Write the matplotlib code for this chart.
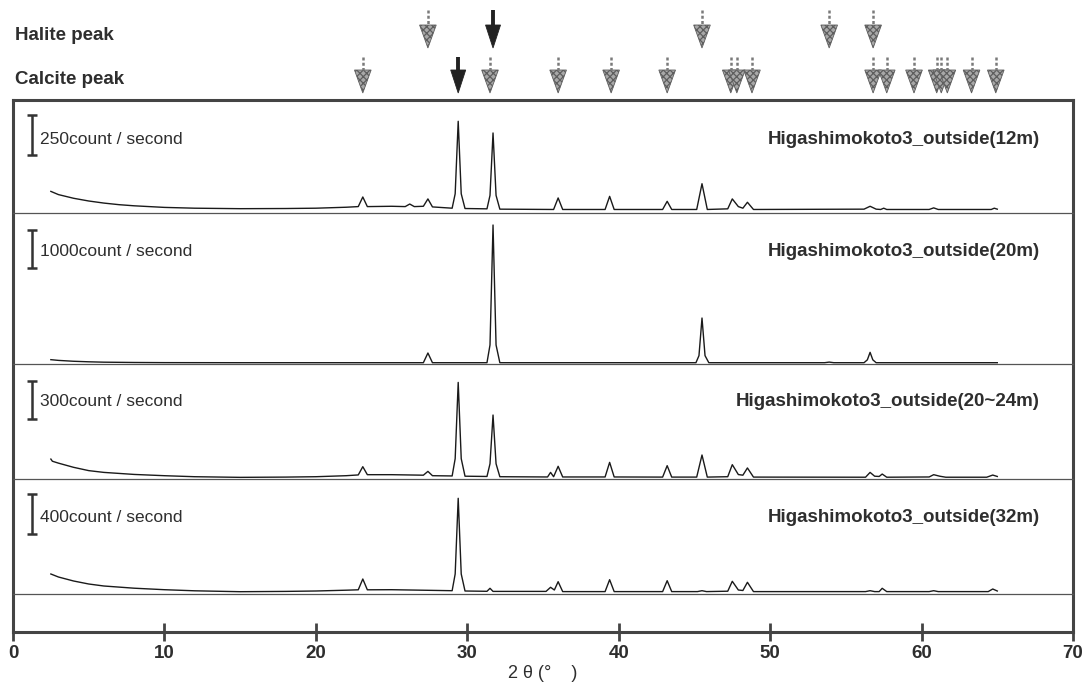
import matplotlib
matplotlib.use("Agg")
import matplotlib.pyplot as plt
import numpy as np
from matplotlib.patches import Polygon

plt.rcParams["font.family"] = ["Liberation Sans", "DejaVu Sans"]
plt.rcParams["hatch.linewidth"] = 0.9

W, H = 1088, 690

# reference peak positions (2 theta, deg)
halite_gray = [27.4, 45.5, 53.9, 56.8]
halite_black = [31.7]
calcite_gray = [23.1, 31.5, 36.0, 39.5, 43.2, 47.4, 47.8, 48.8, 56.8, 57.7,
                59.5, 61.0, 61.3, 61.7, 63.3, 64.9]
calcite_black = [29.4]

# traces: (2 theta, count/second)
trace_12m = [(2.5, 135), (3.0, 115), (4.0, 92), (5.0, 75), (6.0, 62), (7.0, 52), (8.0, 45),
             (10.0, 35), (12.0, 30), (15.0, 27), (18.0, 28), (20.0, 30), (22.0, 36), (22.8, 40),
             (23.1, 100), (23.4, 40), (25.0, 42), (25.9, 40), (26.2, 56), (26.5, 40), (27.1, 42),
             (27.4, 88), (27.7, 38), (29.0, 30), (29.2, 120), (29.4, 573), (29.6, 120), (29.85, 28),
             (31.3, 26), (31.5, 110), (31.7, 500), (31.9, 110), (32.15, 24), (35.7, 22), (36.0, 94),
             (36.3, 22), (39.1, 22), (39.4, 104), (39.7, 22), (42.9, 22), (43.2, 73), (43.5, 22),
             (45.15, 22), (45.5, 183), (45.85, 22), (47.2, 26), (47.5, 88), (47.9, 40), (48.2, 30),
             (48.5, 67), (48.9, 22), (56.2, 24), (56.6, 42), (57.0, 24), (57.3, 22), (57.5, 30),
             (57.7, 22), (60.5, 22), (60.8, 32), (61.1, 22), (64.6, 22), (64.8, 30), (65.0, 24)]

trace_20m = [(2.5, 114), (3.0, 95), (4.0, 72), (5.0, 58), (6.0, 48), (8.0, 40), (10.0, 36),
             (15.0, 34), (20.0, 34), (25.0, 34), (27.1, 34), (27.4, 289), (27.7, 34), (31.3, 34),
             (31.5, 500), (31.7, 3658), (31.9, 500), (32.15, 34), (45.1, 34), (45.3, 220),
             (45.5, 1210), (45.7, 220), (45.95, 34), (53.6, 34), (53.9, 50), (54.2, 34), (56.2, 34),
             (56.42, 110), (56.6, 307), (56.78, 110), (57.0, 34), (65.0, 34)]

trace_20_24m = [(2.5, 157), (2.6, 140), (3.0, 125), (4.0, 92), (5.0, 66), (6.0, 52), (8.0, 36),
                (10.0, 26), (12.0, 18), (15.0, 13), (18.0, 15), (20.0, 18), (22.0, 26), (22.8, 32),
                (23.1, 97), (23.4, 34), (25.0, 34), (27.1, 30), (27.4, 60), (27.7, 26), (29.0, 24),
                (29.2, 160), (29.4, 761), (29.6, 160), (29.85, 22), (31.3, 20), (31.5, 120),
                (31.7, 504), (31.9, 120), (32.15, 18), (35.3, 16), (35.5, 52), (35.7, 18), (36.0, 100),
                (36.3, 16), (39.1, 16), (39.4, 131), (39.7, 16), (42.9, 15), (43.2, 105), (43.5, 15),
                (45.15, 15), (45.5, 189), (45.85, 15), (47.2, 18), (47.5, 113), (47.9, 35), (48.2, 30),
                (48.5, 87), (48.9, 15), (56.3, 14), (56.6, 52), (56.9, 22), (57.2, 20), (57.4, 39),
                (57.7, 14), (60.5, 16), (60.8, 34), (61.2, 22), (61.6, 14), (64.3, 14), (64.7, 31),
                (65.0, 20)]

trace_32m = [(2.5, 200), (3.0, 170), (4.0, 130), (5.0, 100), (6.0, 80), (8.0, 58), (10.0, 43),
             (12.0, 32), (15.0, 23), (18.0, 26), (20.0, 30), (22.0, 38), (22.8, 42), (23.1, 150),
             (23.4, 42), (25.0, 43), (27.0, 38), (29.0, 33), (29.2, 200), (29.4, 957), (29.6, 200),
             (29.85, 30), (31.3, 27), (31.5, 57), (31.7, 26), (35.2, 26), (35.5, 67), (35.75, 40),
             (36.0, 123), (36.3, 24), (39.1, 24), (39.4, 143), (39.7, 24), (42.9, 24), (43.2, 133),
             (43.5, 24), (45.2, 24), (45.5, 33), (45.8, 24), (47.2, 28), (47.5, 127), (47.9, 40),
             (48.2, 35), (48.5, 117), (48.9, 24), (56.3, 24), (56.6, 33), (56.9, 24), (57.2, 24),
             (57.4, 57), (57.7, 24), (60.5, 24), (60.8, 33), (61.1, 24), (64.4, 24), (64.7, 50),
             (65.0, 30)]

sample_names = ["Higashimokoto3_outside(12m)", "Higashimokoto3_outside(20m)",
                "Higashimokoto3_outside(20~24m)", "Higashimokoto3_outside(32m)"]
scale_bars = [250, 1000, 300, 400]
traces = [trace_12m, trace_20m, trace_20_24m, trace_32m]

# layout (pixels of the 1088x690 canvas)
X0, X1 = 13, 1073
panel_px = [(100, 213), (213, 364), (364, 479), (479, 594)]
panel_ymax = [706, 3974, 906, 1150]
bar_bottom = [362, 2526, 472, 600]
label_y = [140, 251, 401, 518]

TXT = "#2e2e2e"
LINE = "#444444"


def fig_rect(top, bottom):
    return [X0 / W, 1 - bottom / H, (X1 - X0) / W, (bottom - top) / H]


def px(x, y):
    return x / W, 1 - y / H


fig = plt.figure(figsize=(W / 100, H / 100), dpi=100)

# outer frame with the 2-theta axis
frame = fig.add_axes(fig_rect(100, 632))
frame.set_xlim(0, 70)
frame.set_ylim(0, 1)
frame.set_yticks([])
frame.set_xticks(np.arange(0, 71, 10))
frame.tick_params(axis="x", direction="inout", length=13, width=2.0, color=LINE,
                  labelsize=13.5, labelcolor=TXT, pad=3)
for lab in frame.get_xticklabels():
    lab.set_fontweight("bold")
for side in ["left", "right", "top", "bottom"]:
    frame.spines[side].set_color(LINE)
    frame.spines[side].set_linewidth(2.2)
frame.set_xlabel("2 θ (°    )", fontsize=13, color=TXT, labelpad=2)

# stacked diffraction patterns
for i, trace in enumerate(traces):
    top, bottom = panel_px[i]
    ax = fig.add_axes(fig_rect(top, bottom))
    ax.set_xlim(0, 70)
    ax.set_ylim(0, panel_ymax[i])
    ax.axis("off")
    ax.patch.set_alpha(0)
    tt, cps = np.array(trace).T
    ax.plot(tt, cps, color="#1a1a1a", lw=1.0)
    ax.axhline(0, color="#555555", lw=0.9, clip_on=False)
    half = scale_bars[i] / 2
    ax.errorbar([1.25], [bar_bottom[i] + half], yerr=half, color="#333333",
                elinewidth=1.8, capsize=3.5, capthick=1.8, fmt="none")
    fig.text(*px(40, label_y[i]), f"{scale_bars[i]}count / second", fontsize=12.5,
             color=TXT, ha="left", va="center")
    fig.text(*px(1040, label_y[i]), sample_names[i], fontsize=13.5, fontweight="bold",
             color=TXT, ha="right", va="center")

# peak markers above the frame
arr = fig.add_axes([X0 / W, 1 - 100 / H, (X1 - X0) / W, 100 / H])
arr.set_xlim(0, 70)
arr.set_ylim(100, 0)
arr.axis("off")
arr.patch.set_alpha(0)


def draw_arrow(x, top, head, tip, black):
    hw = 0.55
    if black:
        arr.plot([x, x], [top, head + 1], color="#222222", lw=2.8, solid_capstyle="butt")
        arr.add_patch(Polygon([(x - hw * 0.9, head), (x + hw * 0.9, head), (x, tip)],
                              closed=True, facecolor="#222222", edgecolor="#222222", lw=0.6))
    else:
        arr.plot([x, x], [top, head], color="#7a7a7a", lw=1.8, ls=(0, (1.2, 0.9)))
        arr.add_patch(Polygon([(x - hw, head), (x + hw, head), (x, tip)], closed=True,
                              facecolor="#a8a8a8", edgecolor="#5e5e5e", lw=0.6, hatch="xxxxx"))


for x in halite_gray:
    draw_arrow(x, 10, 25, 48, False)
for x in halite_black:
    draw_arrow(x, 10, 25, 48, True)
for x in calcite_gray:
    draw_arrow(x, 57, 70, 93, False)
for x in calcite_black:
    draw_arrow(x, 57, 70, 93, True)

fig.text(*px(15, 36), "Halite peak", fontsize=13.5, fontweight="bold", color=TXT, va="center")
fig.text(*px(15, 80), "Calcite peak", fontsize=13.5, fontweight="bold", color=TXT, va="center")

fig.savefig("out.png", dpi=100)
